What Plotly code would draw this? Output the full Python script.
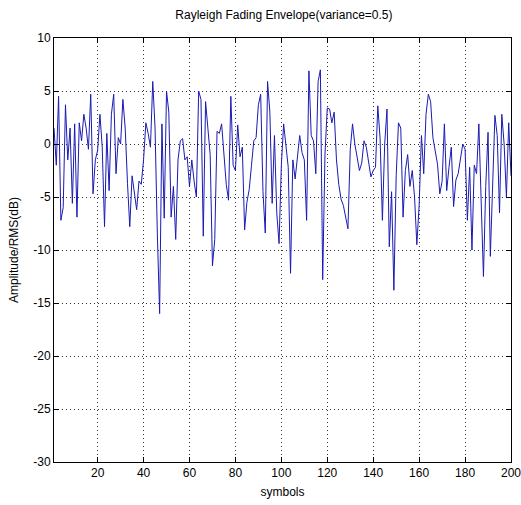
import plotly.graph_objects as go

symbols = list(range(1, 201))
amplitude_db = [
    1.5, -2.0, 4.5, -7.2, -6.0, 3.7, -1.5, 1.5, -5.6, 1.9,
    -6.9, 2.0, 0.3, 2.8, 1.5, -0.5, 4.7, -4.7, -1.5, -0.6,
    2.8, -0.3, -7.8, 1.0, -4.4, 2.8, 4.7, -2.8, 0.6, 0.0,
    4.2, 1.5, -3.7, -7.8, -3.0, -4.5, -6.2, -3.5, -3.8, -1.5,
    2.0, 1.0, -0.3, 5.9, 1.5, -8.5, -16.0, 1.9, -7.0, 5.0,
    3.0, -6.9, -4.0, -9.0, -1.5, 0.3, 0.5, -1.5, -1.2, -4.0,
    -1.5, -3.5, -5.0, 5.0, 4.2, -8.7, 4.0, 1.5, -1.0, -11.5,
    -9.0, 1.2, 1.0, 1.9, -1.3, -3.8, -5.3, 4.5, -2.0, -2.5,
    1.8, -1.2, -0.3, -8.1, -5.5, -4.3, -2.0, 0.3, 0.6, 3.7,
    4.7, -4.5, -8.4, 5.9, 3.0, -5.6, 0.8, -6.5, -9.4, -2.0,
    1.9, -0.5, -2.2, -12.2, -1.5, -3.3, -1.0, 0.8, -0.8, -1.5,
    -7.2, 6.9, 0.8, 0.3, -2.8, 5.9, 7.0, -12.8, -1.0, 3.4,
    3.3, 2.0, 3.0, -1.5, -3.8, -5.2, -5.8, -7.0, -8.0, -0.5,
    1.9, 0.0, -1.5, -2.5, -1.8, 0.3, -0.3, -1.8, -3.1, -2.5,
    -2.2, 3.6, 0.5, -7.2, 0.0, 3.3, -9.7, -4.5, -13.8, -3.0,
    2.0, 1.5, -6.9, -2.5, -1.0, -4.0, -2.5, -5.0, -9.5, -5.8,
    0.8, -2.8, 2.8, 4.7, 4.0, 0.6, -0.6, -1.9, -4.7, -3.5,
    1.9, -4.4, -2.2, -0.3, -5.9, -3.4, -2.8, -1.5, 0.0, -0.5,
    -7.2, -2.2, -10.0, -2.0, -2.8, 1.9, -6.0, -12.5, -4.0, 1.1,
    -10.6, -3.1, 2.7, 0.8, -6.5, 2.8, 0.0, -5.0, 2.0, -3.0,
]
x_ticks = [20, 40, 60, 80, 100, 120, 140, 160, 180, 200]
y_ticks = [10, 5, 0, -5, -10, -15, -20, -25, -30]
x_labels = ["20", "40", "60", "80", "100", "120", "140", "160", "180", "200"]
y_labels = ["10", "5", "0", "-5", "-10", "-15", "-20", "-25", "-30"]

FONT = "Liberation Sans Narrow, Liberation Sans, Arial, sans-serif"

fig = go.Figure()
fig.add_trace(go.Scatter(
    x=symbols, y=amplitude_db, mode="lines",
    line=dict(color="#1a1ab4", width=1),
    showlegend=False, hoverinfo="skip",
))

axis_common = dict(
    showline=True, linecolor="black", linewidth=1, mirror="allticks",
    ticks="inside", ticklen=5, tickcolor="black",
    showgrid=True, gridcolor="rgba(0,0,0,0.8)", gridwidth=1, griddash="1px,3px",
    zeroline=False, tickfont=dict(family=FONT, size=12, color="black"),
    automargin=False, ticklabeloverflow="allow",
)

fig.update_layout(
    width=521, height=505,
    margin=dict(l=54, r=10, t=38, b=43),
    paper_bgcolor="white", plot_bgcolor="white",
    title=dict(text="Rayleigh Fading Envelope(variance=0.5)",
               font=dict(family=FONT, size=12, color="black"),
               x=0.545, xanchor="center", y=0.971, yanchor="middle"),
    xaxis=dict(range=[1, 200], tickvals=x_ticks, ticktext=x_labels,
               title=dict(text="symbols", font=dict(family=FONT, size=12, color="black"), standoff=8),
               **axis_common),
    yaxis=dict(range=[-30, 10], tickvals=y_ticks, ticktext=y_labels,
               title=dict(text="Amplitude/RMS(dB)", font=dict(family=FONT, size=12, color="black"), standoff=12),
               **axis_common),
)

fig.write_html(
    "out.html",
    config={"displayModeBar": False, "staticPlot": True},
    post_script="document.body.style.margin='0';document.body.style.overflow='hidden';",
)
